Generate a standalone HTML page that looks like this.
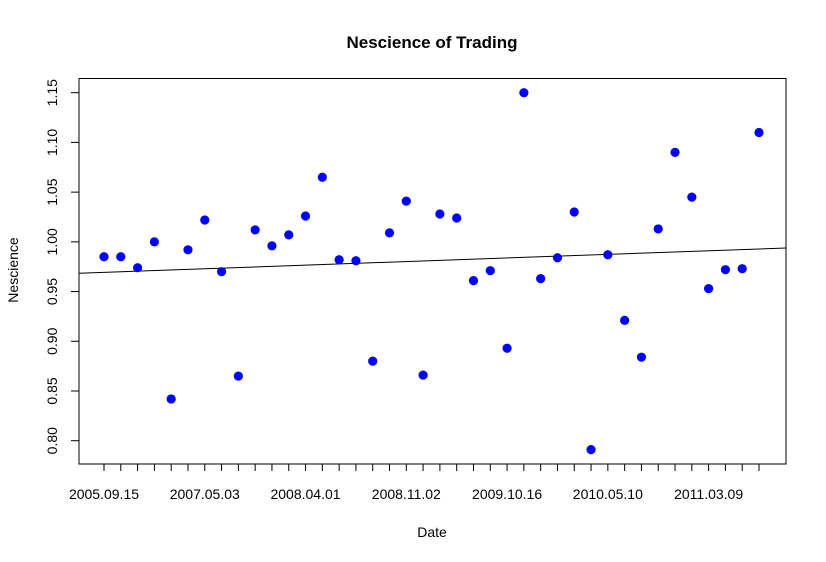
<!DOCTYPE html>
<html><head><meta charset="utf-8"><style>
body{margin:0;background:#fff}
svg{display:block;font-family:"Liberation Sans",Arial,sans-serif}
</style></head><body>
<svg id="chart" width="826" height="562">
<text x="432" y="48" text-anchor="middle" font-size="17" font-weight="bold">Nescience of Trading</text>
<text x="432" y="537" text-anchor="middle" font-size="14">Date</text>
<text transform="translate(18,270) rotate(-90)" text-anchor="middle" font-size="14">Nescience</text>
<rect x="79" y="78.5" width="707" height="385.5" fill="none" stroke="#000" stroke-width="1"/>
<g id="axes"></g><g id="marks"></g>
</svg>
<script>
const values=[0.985,0.985,0.974,1.000,0.842,0.992,1.022,0.970,0.865,1.012,0.996,1.007,1.026,1.065,0.982,0.981,0.880,1.009,1.041,0.866,1.028,1.024,0.961,0.971,0.893,1.150,0.963,0.984,1.030,0.791,0.987,0.921,0.884,1.013,1.090,1.045,0.953,0.972,0.973,1.110];
const xLabels=["2005.09.15","2007.05.03","2008.04.01","2008.11.02","2009.10.16","2010.05.10","2011.03.09"];
const xLabelIdx=[1,7,13,19,25,31,37];
const yTicks=[0.80,0.85,0.90,0.95,1.00,1.05,1.10,1.15];
const NS="http://www.w3.org/2000/svg";
const n=values.length;
const X=i=>104+(i-1)*(655/39);
const Y=v=>440.7-(v-0.80)*(348/0.35);
const axes=document.getElementById('axes'),marks=document.getElementById('marks');
function mk(tag,a,p){const e=document.createElementNS(NS,tag);for(const k in a)e.setAttribute(k,a[k]);p.appendChild(e);return e;}
mk('line',{x1:79,x2:79,y1:Y(0.80),y2:Y(1.15),stroke:'#000'},axes);
yTicks.forEach(t=>{
 const l=mk('line',{x1:71,x2:79,y1:Y(t),y2:Y(t),stroke:'#000'},axes);
 
 
 const tx=mk('text',{transform:`translate(57,${Y(t)}) rotate(-90)`,'text-anchor':'middle','font-size':14},axes);
 tx.textContent=t.toFixed(2);
 
 
});
mk('line',{x1:X(1),x2:X(n),y1:464,y2:464,stroke:'#000'},axes);
for(let i=1;i<=n;i++){
 const l=mk('line',{x1:X(i),x2:X(i),y1:464,y2:471,stroke:'#000'},axes);
 
 
}
xLabels.forEach((s,k)=>{
 const tx=mk('text',{x:X(xLabelIdx[k]),y:499,'text-anchor':'middle','font-size':14},axes);
 tx.textContent=s;
 
 
});
let sx=0,sy=0,sxx=0,sxy=0;
values.forEach((v,k)=>{const i=k+1;sx+=i;sy+=v;sxx+=i*i;sxy+=i*v;});
const b=(n*sxy-sx*sy)/(n*sxx-sx*sx),a=(sy-b*sx)/n;
const i0=(79-104)/(655/39)+1,i1=(786-104)/(655/39)+1;
const rl=mk('line',{x1:79,x2:786,y1:Y(a+b*i0),y2:Y(a+b*i1),stroke:'#000','stroke-width':1},marks);


values.forEach((v,k)=>{
 const c=mk('circle',{cx:X(k+1),cy:Y(v),r:4.6,fill:'#0000ff'},marks);
 
 
});
</script>
</body></html>
